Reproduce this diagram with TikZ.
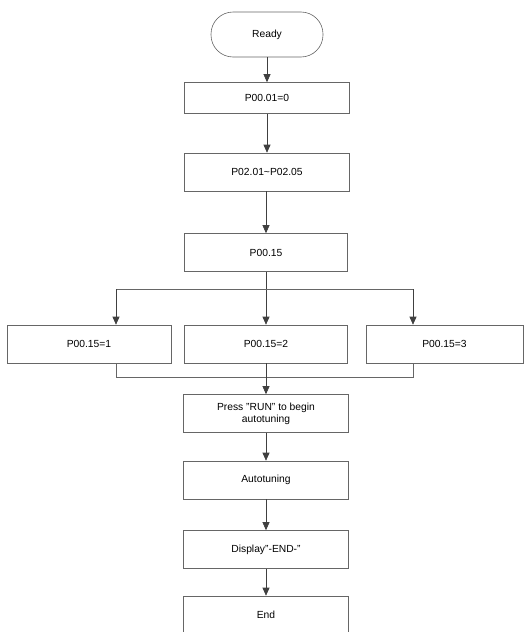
\documentclass[tikz,border=0pt]{standalone}
\usepackage{fontspec}
\setmainfont{Liberation Sans}
\usetikzlibrary{arrows.meta}

\begin{document}
\begin{tikzpicture}[x=1pt, y=-1pt, >=stealth,
  box/.style={draw=black!60, line width=0.6pt, minimum width=165pt, minimum height=38pt, inner sep=2pt, align=center, font=\fontsize{10.3}{12}\selectfont},
  termbox/.style={box, rounded corners=22pt, minimum width=112pt, minimum height=45pt},
  arr/.style={draw=black!75, line width=0.6pt, -{Triangle[length=8pt,width=7pt]}},
  wire/.style={draw=black!60, line width=0.6pt}]

\useasboundingbox (0,0) rectangle (529,632);

% Main column
\node[termbox] (ready) at (267,34.5) {Ready};
\node[box, minimum height=31pt] (p0101) at (267,98) {P00.01=0};
\node[box] (p0201) at (267,172) {P02.01\textasciitilde P02.05};
\node[box, minimum width=163pt] (p0015) at (266,252.5) {P00.15};

% Three choices
\node[box, minimum width=164pt] (opt1) at (89,344) {P00.15=1};
\node[box, minimum width=163pt] (opt2) at (266,344) {P00.15=2};
\node[box, minimum width=157pt] (opt3) at (444.5,344) {P00.15=3};

% Autotuning steps
\node[box] (press) at (266,413.5) {Press "RUN" to begin\\autotuning};
\node[box] (auto) at (266,480) {Autotuning};
\node[box] (disp) at (266,549.5) {Display"-END-"};
\node[box] (fin) at (266,615) {End};

% Branch and merge points
\coordinate (brl) at (116,289);
\coordinate (brr) at (413,289);
\coordinate (mgl) at (116,377);
\coordinate (mgr) at (413,377);

% Connectors
\draw[arr] (ready) -- (p0101);
\draw[arr] (p0101) -- (p0201);
\draw[arr] (p0201.south -| p0015) -- (p0015);
\draw[arr] (p0015) -- (opt2);
\draw[wire] (brl) -- (brr);
\draw[arr] (brl) -- (brl |- opt1.north);
\draw[arr] (brr) -- (brr |- opt3.north);
\draw[wire] (mgl |- opt1.south) -- (mgl) -- (mgr) -- (mgr |- opt3.south);
\draw[arr] (opt2) -- (press);
\draw[arr] (press) -- (auto);
\draw[arr] (auto) -- (disp);
\draw[arr] (disp) -- (fin);

\end{tikzpicture}
\end{document}
